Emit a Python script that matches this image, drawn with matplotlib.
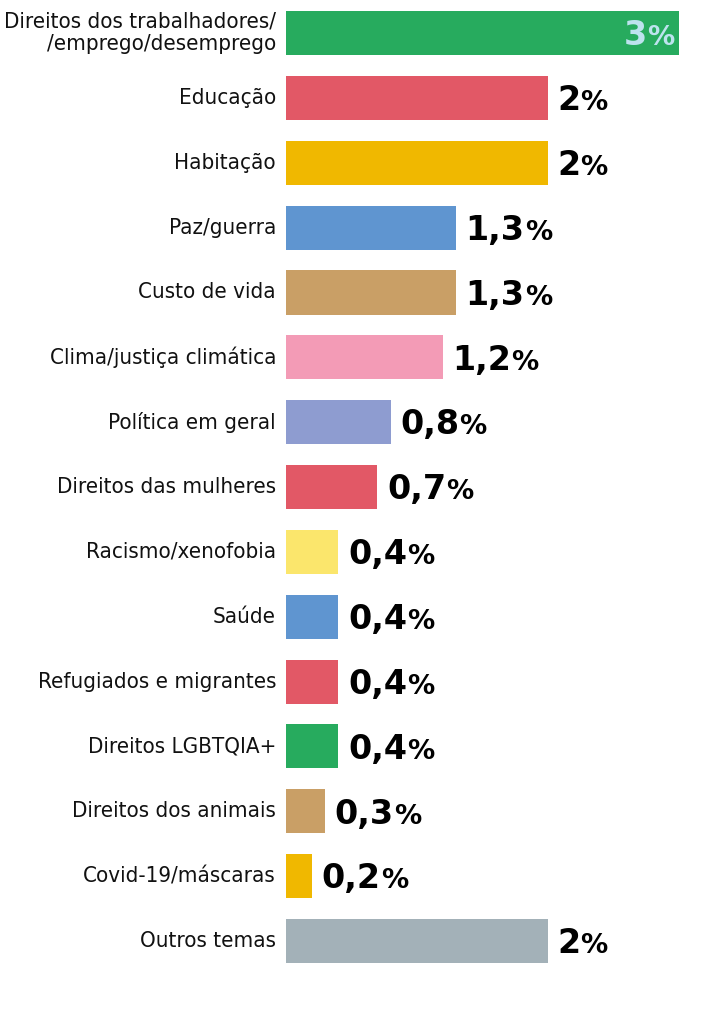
import matplotlib.pyplot as plt
from matplotlib import font_manager

temas = ['Direitos dos trabalhadores/\n/emprego/desemprego', 'Educação', 'Habitação',
         'Paz/guerra', 'Custo de vida', 'Clima/justiça climática', 'Política em geral',
         'Direitos das mulheres', 'Racismo/xenofobia', 'Saúde', 'Refugiados e migrantes',
         'Direitos LGBTQIA+', 'Direitos dos animais', 'Covid-19/máscaras', 'Outros temas']
valores = [3, 2, 2, 1.3, 1.3, 1.2, 0.8, 0.7, 0.4, 0.4, 0.4, 0.4, 0.3, 0.2, 2]
rotulos = ['3', '2', '2', '1,3', '1,3', '1,2', '0,8', '0,7', '0,4', '0,4', '0,4', '0,4',
           '0,3', '0,2', '2']
cores = ['#27ab5e', '#e25866', '#f0b800', '#5f95d0', '#c99f66', '#f39bb6', '#8e9cd0',
         '#e25866', '#fbe66c', '#5f95d0', '#e25866', '#27ab5e', '#c99f66', '#f0b800',
         '#a3b1b8']

# procura uma fonte estreita instalada
estreita = None
for f in font_manager.fontManager.ttflist:
    nome = (f.name + ' ' + f.fname).lower()
    if f.weight in (400, 'normal', 'regular') and f.style == 'normal' and \
            ('narrow' in nome or 'condensed' in nome or f.stretch in ('condensed', 'semi-condensed')):
        if 'bold' in nome or 'oblique' in nome or 'italic' in nome:
            continue
        estreita = f.fname
        break
if estreita:
    fp_lab = font_manager.FontProperties(fname=estreita, size=16)
else:
    fp_lab = font_manager.FontProperties(family='DejaVu Sans', size=13.5)

fig = plt.figure(figsize=(7.2, 10.24), dpi=100)
ax = fig.add_axes([0.397, 0.0494, 0.6, 0.95])
y = list(range(len(temas)))
ax.barh(y, valores, height=0.68, color=cores)
ax.set_xlim(0, 3.3)
ax.set_ylim(len(temas) - 0.5, -0.5)
ax.axis('off')

fonte_num = ['DejaVu Sans']
for i, (t, v) in enumerate(zip(temas, valores)):
    ax.annotate(t, xy=(0, i), xytext=(-7, 0), textcoords='offset points',
                ha='right', va='center', fontproperties=fp_lab,
                linespacing=1.15, color='#111111')
    base = i + 0.19
    if i == 0:
        pct = ax.annotate('%', xy=(v, base), xytext=(-3, 0), textcoords='offset points',
                          ha='right', va='baseline', fontsize=19.5, fontweight='bold',
                          family=fonte_num, color='#bde3ee')
        ax.annotate(rotulos[i], xy=(0, base), xycoords=(pct, 'data'),
                    ha='right', va='baseline', fontsize=24, fontweight='bold',
                    family=fonte_num, color='#bde3ee')
    else:
        num = ax.annotate(rotulos[i], xy=(v, base), xytext=(7, 0),
                          textcoords='offset points', ha='left', va='baseline',
                          fontsize=24, fontweight='bold', family=fonte_num, color='black')
        ax.annotate('%', xy=(1, base), xycoords=(num, 'data'), ha='left',
                    va='baseline', fontsize=19.5, fontweight='bold', family=fonte_num,
                    color='black')

fig.savefig('out.png', dpi=100)
